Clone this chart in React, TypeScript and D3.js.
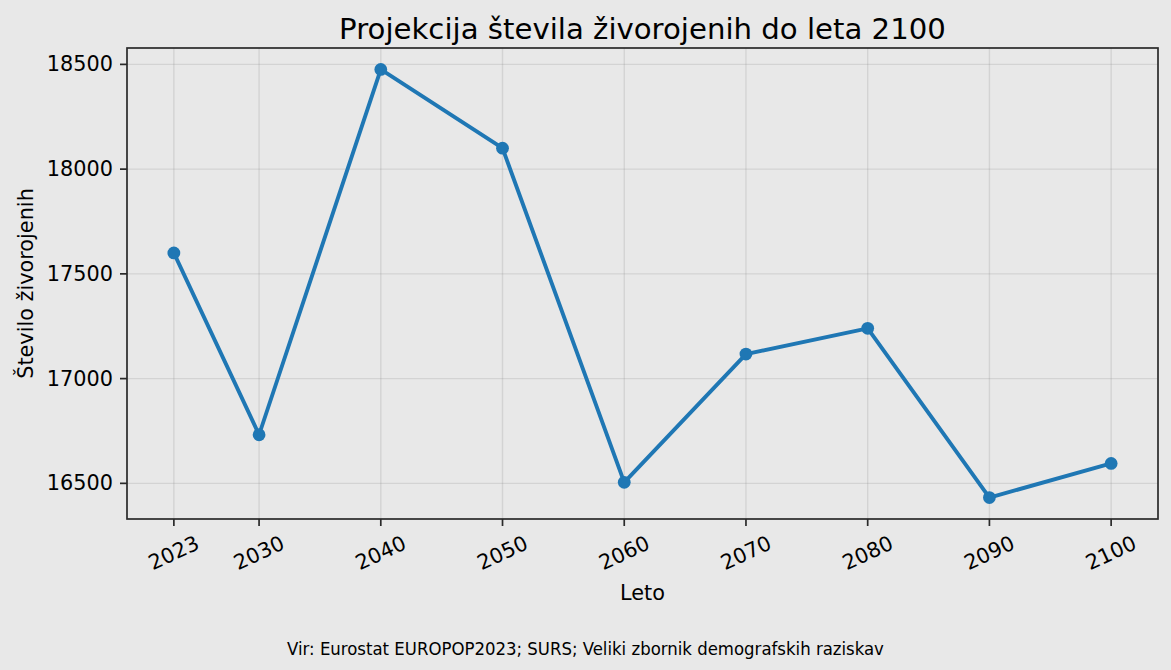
import React from "react";
import * as d3 from "d3";

const years = [2023, 2030, 2040, 2050, 2060, 2070, 2080, 2090, 2100];
const births = [17600, 16732, 18476, 18100, 16505, 17117, 17240, 16432, 16595];
const yTicks = [16500, 17000, 17500, 18000, 18500];
const titleText = "Projekcija števila živorojenih do leta 2100";
const xLabelText = "Leto";
const yLabelText = "Število živorojenih";
const sourceText = "Vir: Eurostat EUROPOP2023; SURS; Veliki zbornik demografskih raziskav";

const W = 1171;
const H = 670;
const M = { left: 127, right: 1158, top: 48, bottom: 519 };
const BG = "#e8e8e8";
const FONT = "'DejaVu Sans', sans-serif";
const SPINE = "#2a2a2a";
const LINE = "#1f77b4";

export default function App() {
  const xExt = d3.extent(years) as [number, number];
  const xPad = (xExt[1] - xExt[0]) * 0.05;
  const yExt = d3.extent(births) as [number, number];
  const yPad = (yExt[1] - yExt[0]) * 0.05;
  const x = d3.scaleLinear().domain([xExt[0] - xPad, xExt[1] + xPad]).range([M.left, M.right]);
  const y = d3.scaleLinear().domain([yExt[0] - yPad, yExt[1] + yPad]).range([M.bottom, M.top]);
  const line = d3
    .line<number>()
    .x((_, i) => x(years[i]))
    .y((d) => y(d));
  const pts = births.map((b, i) => ({ cx: x(years[i]), cy: y(b) }));

  return (
    <svg
      width={W}
      height={H}
      style={{ position: "absolute", left: 0, top: 0, background: BG }}
      fontFamily={FONT}
    >
      <rect x={0} y={0} width={W} height={H} fill={BG} />
      {years.map((yr) => (
        <line key={"gx" + yr} x1={x(yr)} x2={x(yr)} y1={M.top} y2={M.bottom} stroke="#808080" strokeOpacity={0.2} strokeWidth={1.4} />
      ))}
      {yTicks.map((t) => (
        <line key={"gy" + t} x1={M.left} x2={M.right} y1={y(t)} y2={y(t)} stroke="#808080" strokeOpacity={0.2} strokeWidth={1.4} />
      ))}
      <path d={line(births) || ""} fill="none" stroke={LINE} strokeWidth={3.9} strokeLinejoin="round" strokeLinecap="square" />
      {pts.map((p, i) => (
        <circle key={"p" + i} cx={p.cx} cy={p.cy} r={6.4} fill={LINE} />
      ))}
      <rect x={M.left} y={M.top} width={M.right - M.left} height={M.bottom - M.top} fill="none" stroke={SPINE} strokeWidth={1.7} />
      {years.map((yr) => (
        <g key={"xt" + yr}>
          <line x1={x(yr)} x2={x(yr)} y1={M.bottom} y2={M.bottom + 7} stroke={SPINE} strokeWidth={1.7} />
          <text
            transform={`translate(${x(yr)},553) rotate(-25)`}
            textAnchor="middle"
            dominantBaseline="central"
            fontSize={20.8}
            fill="#000"
          >
            {yr}
          </text>
        </g>
      ))}
      {yTicks.map((t) => (
        <g key={"yt" + t}>
          <line x1={M.left - 7} x2={M.left} y1={y(t)} y2={y(t)} stroke={SPINE} strokeWidth={1.7} />
          <text x={M.left - 14} y={y(t)} textAnchor="end" dominantBaseline="central" fontSize={20.8} fill="#000">
            {t}
          </text>
        </g>
      ))}
      <text x={(M.left + M.right) / 2} y={38.5} textAnchor="middle" fontSize={29.2} fill="#000">
        {titleText}
      </text>
      <text x={(M.left + M.right) / 2} y={600} textAnchor="middle" fontSize={20.8} fill="#000">
        {xLabelText}
      </text>
      <text transform={`translate(33,${(M.top + M.bottom) / 2}) rotate(-90)`} textAnchor="middle" fontSize={20.8} fill="#000">
        {yLabelText}
      </text>
      <text x={W / 2} y={655} textAnchor="middle" fontSize={18.4} fill="#000" fontFamily="'DejaVu Sans Condensed', 'DejaVu Sans', sans-serif" style={{ fontStretch: "condensed" }}>
        {sourceText}
      </text>
    </svg>
  );
}
